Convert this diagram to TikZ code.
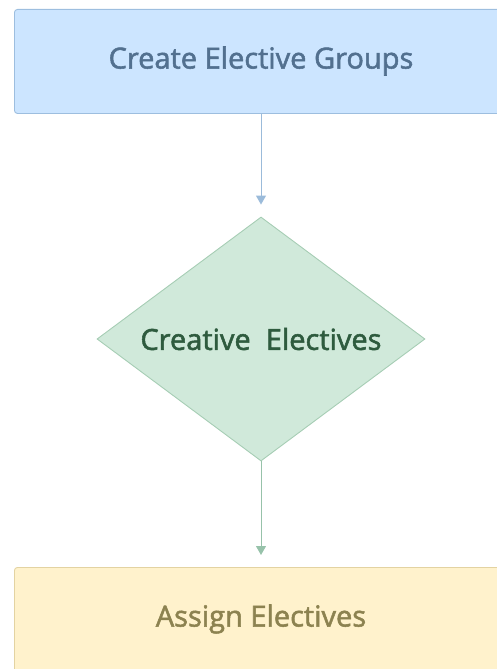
\documentclass[tikz,border=0pt]{standalone}
\usepackage{fontspec}
\setmainfont{Open Sans}[FakeBold=1.8]
\usetikzlibrary{shapes.geometric,arrows.meta}
\definecolor{boxblue}{HTML}{CCE5FF}
\definecolor{lineblue}{HTML}{9DBEDF}
\definecolor{textblue}{HTML}{52708F}
\definecolor{boxgreen}{HTML}{D0E9DA}
\definecolor{linegreen}{HTML}{A6CDB4}
\definecolor{textgreen}{HTML}{2E5B3E}
\definecolor{boxyellow}{HTML}{FFF2CC}
\definecolor{lineyellow}{HTML}{E3D3A2}
\definecolor{textyellow}{HTML}{8C8250}
\definecolor{arrowblue}{HTML}{9BBBDA}
\definecolor{arrowgreen}{HTML}{97C2AA}
\tikzset{
  stepbox/.style={draw, rounded corners=3pt, line width=0.9pt, inner sep=0pt},
  decision/.style={diamond, draw, line width=0.9pt, inner sep=0pt, aspect=1.34},
  label/.style={font=\fontsize{29}{33}\selectfont},
  flow/.style={line width=0.9pt, -{Triangle[length=9pt,width=10pt]}, shorten >=12pt}
}
\begin{document}
\begin{tikzpicture}[x=1pt,y=-1pt]
\useasboundingbox (0,0) rectangle (497,669);
\begin{scope}
\clip (0,0) rectangle (497,669);
% process box on top
\node[stepbox, fill=boxblue, draw=lineblue, minimum width=520pt, minimum height=104pt, anchor=north west]
  (groups) at (14,9) {};
\node[label, text=textblue] (groupstext) at (261,61) {Create Elective Groups};
% decision in the middle
\node[decision, fill=boxgreen, draw=linegreen, minimum width=328pt, minimum height=244pt]
  (creative) at (261,339) {};
\node[label, text=textgreen] (creativetext) at (261,339) {Creative\ \ Electives};
% process box at the bottom
\node[stepbox, fill=boxyellow, draw=lineyellow, minimum width=520pt, minimum height=140pt, anchor=north west]
  (assign) at (14,567) {};
\node[label, text=textyellow] (assigntext) at (261,619) {Assign Electives};
\end{scope}
% connectors
\draw[flow, draw=arrowblue, fill=arrowblue] (groups.south -| creative.north) -- (creative.north);
\draw[flow, draw=arrowgreen, fill=arrowgreen] (creative.south) -- (assign.north -| creative.south);
\end{tikzpicture}
\end{document}
